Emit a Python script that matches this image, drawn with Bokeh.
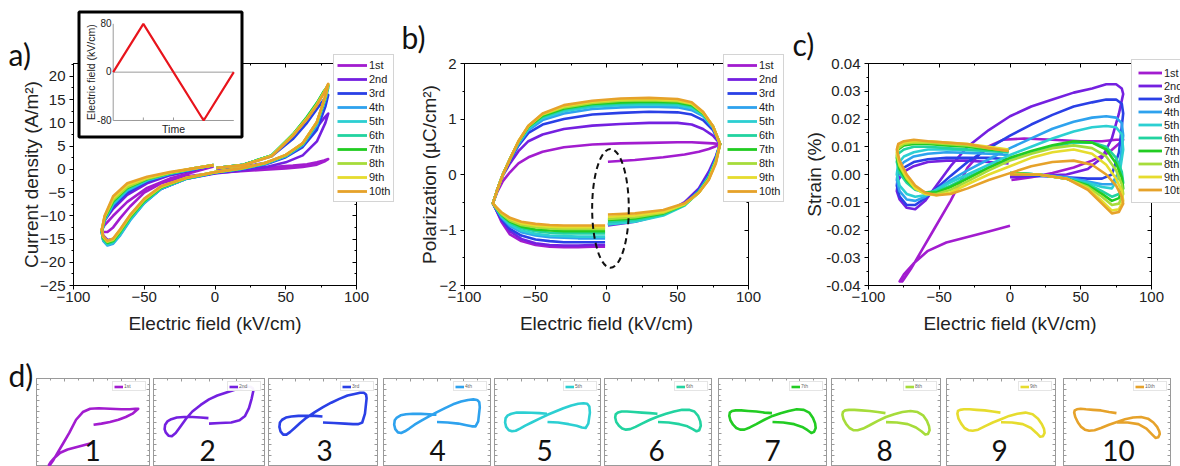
import math
from bokeh.plotting import figure
from bokeh.models import (Legend, LegendItem, LinearAxis, Range1d, Label, BoxAnnotation,
                          CustomJSTickFormatter, FixedTicker, NumeralTickFormatter)
from bokeh.layouts import row, column
from bokeh.embed import file_html
from bokeh.resources import INLINE

FONT = "Liberation Sans"
HAND = "Lato"

CYCLE_LABELS = ["1st", "2nd", "3rd", "4th", "5th", "6th", "7th", "8th", "9th", "10th"]
CYCLE_COLORS = ["#a21ccf", "#7420e0", "#2a40e6", "#2ea2ee", "#2ccfd2",
                "#22d3a0", "#22cc22", "#a6dc3a", "#e6dc2e", "#e6a22a"]
PANEL_NUMBERS = ["1", "2", "3", "4", "5", "6", "7", "8", "9", "10"]
PANEL_LETTERS = ["a)", "b)", "c)", "d)"]

# ---------------- axis ticks ----------------
X_TICKS = [-100, -50, 0, 50, 100]
X_MINOR = [-75, -25, 25, 75]
A_YTICKS = [-25, -20, -15, -10, -5, 0, 5, 10, 15, 20]
A_YMINOR = [-22.5, -17.5, -12.5, -7.5, -2.5, 2.5, 7.5, 12.5, 17.5, 22.5]
B_YTICKS = [-2, -1, 0, 1, 2]
B_YMINOR = [-1.5, -0.5, 0.5, 1.5]
C_YTICKS = [-0.04, -0.03, -0.02, -0.01, 0.0, 0.01, 0.02, 0.03, 0.04]
C_YMINOR = [-0.035, -0.025, -0.015, -0.005, 0.005, 0.015, 0.025, 0.035]
INSET_YTICK_LABELS = ["80", "0", "-80"]

# ---------------- inset: applied field waveform ----------------
INSET_TIME = [0, 1, 3, 4]
INSET_FIELD = [0, 80, -80, 0]

# ---------------- panel a: current density (A/m2) ----------------
FIELD_A = [1, 20, 40, 55, 65, 72, 77, 80, 78, 72, 62, 50, 35, 18, 0, -20, -38, -50, -60, -67,
           -72, -76, -79, -80, -78, -72, -62, -48, -32, -15, -1]
J_1 = [0.2, 0.3, 0.5, 0.8, 1.1, 1.5, 1.9, 2.2, 1.8, 1.0, 0.5, 0.2, -0.1, -0.4, -0.8, -1.5, -3.0,
       -5.0, -8.0, -10.5, -12.5, -13.5, -13.5, -13.0, -12.0, -10.0, -7.0, -4.0, -2.0, -0.6, 0.6]
J_2 = [0.2, 0.6, 1.6, 3.8, 6.5, 9.0, 11.0, 12.0, 10.0, 6.0, 3.0, 1.5, 0.4, -0.3, -0.9, -2.0, -4.2,
       -7.0, -10.5, -13.5, -15.0, -15.2, -14.2, -13.0, -11.0, -8.5, -5.5, -3.0, -1.3, -0.2, 0.8]
J_3 = [0.3, 1.0, 2.8, 6.5, 10.0, 13.0, 15.0, 16.0, 13.5, 8.5, 4.8, 2.6, 1.0, 0.0, -0.8, -2.0, -4.2,
       -7.2, -10.8, -14.0, -15.8, -16.2, -15.2, -13.6, -11.0, -8.0, -5.0, -2.6, -1.1, 0.0, 0.9]
J_4 = [0.3, 1.0, 3.0, 7.2, 11.0, 14.0, 16.5, 17.5, 15.0, 9.5, 5.2, 2.8, 1.1, 0.1, -0.7, -2.0, -4.2,
       -7.3, -11.0, -14.2, -16.0, -16.4, -15.4, -13.6, -11.0, -7.6, -4.6, -2.4, -1.0, 0.1, 0.9]
J_5 = [0.3, 1.0, 3.0, 7.4, 11.2, 14.2, 16.7, 17.8, 15.2, 9.8, 5.4, 2.9, 1.2, 0.1, -0.7, -2.0, -4.1,
       -7.1, -10.8, -14.0, -15.8, -16.2, -15.2, -13.5, -10.8, -7.3, -4.4, -2.3, -0.9, 0.1, 0.9]
J_6 = [0.3, 1.0, 3.0, 7.5, 11.3, 14.3, 16.8, 18.0, 15.4, 10.0, 5.5, 3.0, 1.2, 0.1, -0.7, -1.9, -4.0,
       -6.9, -10.5, -13.7, -15.6, -16.0, -15.0, -13.4, -10.6, -7.1, -4.2, -2.2, -0.9, 0.2, 0.9]
J_7 = [0.3, 1.0, 3.0, 7.5, 11.2, 14.2, 16.8, 18.1, 15.5, 10.1, 5.5, 3.0, 1.3, 0.2, -0.6, -1.9, -3.9,
       -6.8, -10.3, -13.4, -15.4, -15.8, -14.8, -13.2, -10.5, -6.9, -4.0, -2.1, -0.8, 0.2, 0.9]
J_8 = [0.3, 0.9, 2.9, 7.4, 11.0, 14.0, 16.6, 18.2, 15.6, 10.1, 5.6, 3.0, 1.3, 0.2, -0.6, -1.8, -3.8,
       -6.6, -10.1, -13.2, -15.2, -15.6, -14.6, -13.0, -10.3, -6.6, -3.8, -2.0, -0.8, 0.2, 0.9]
J_9 = [0.3, 0.9, 2.9, 7.3, 10.9, 13.9, 16.5, 18.3, 15.7, 10.2, 5.6, 3.1, 1.3, 0.2, -0.6, -1.8, -3.7,
       -6.4, -9.9, -13.0, -15.0, -15.5, -14.5, -13.0, -10.1, -6.2, -3.4, -1.8, -0.7, 0.2, 0.9]
J_10 = [0.3, 0.9, 2.8, 7.2, 10.8, 13.8, 16.4, 18.4, 15.8, 10.2, 5.6, 3.1, 1.3, 0.2, -0.6, -1.8, -3.6,
        -6.3, -9.8, -12.9, -14.9, -15.4, -14.4, -13.0, -10.0, -5.8, -3.0, -1.6, -0.6, 0.2, 0.9]
CURRENT = [J_1, J_2, J_3, J_4, J_5, J_6, J_7, J_8, J_9, J_10]

# ---------------- panel b: polarization (uC/cm2) ----------------
FIELD_B = [1, 20, 40, 55, 65, 72, 77, 80, 75, 68, 60, 50, 30, 10, -10, -30, -45, -55, -62, -68,
           -73, -77, -80, -78, -74, -68, -60, -50, -40, -30, -20, -10, -1]
P_1 = [0.23, 0.26, 0.31, 0.36, 0.41, 0.46, 0.51, 0.55, 0.56, 0.57, 0.58, 0.58, 0.57, 0.56, 0.54,
       0.49, 0.41, 0.31, 0.2, 0.04, -0.12, -0.32, -0.52, -0.62, -0.85, -1.08, -1.2, -1.27, -1.3,
       -1.31, -1.31, -1.3, -1.3]
P_2 = [-0.92, -0.85, -0.72, -0.5, -0.25, 0.05, 0.33, 0.55, 0.7, 0.82, 0.9, 0.93, 0.93, 0.91, 0.88,
       0.82, 0.72, 0.6, 0.42, 0.2, -0.02, -0.28, -0.52, -0.62, -0.82, -1.02, -1.16, -1.24, -1.27,
       -1.28, -1.28, -1.27, -1.27]
P_3 = [-0.9, -0.84, -0.72, -0.52, -0.28, 0.0, 0.3, 0.55, 0.8, 0.98, 1.08, 1.12, 1.13, 1.11, 1.08,
       1.0, 0.9, 0.75, 0.52, 0.25, 0.0, -0.28, -0.52, -0.62, -0.8, -0.98, -1.1, -1.17, -1.2, -1.22,
       -1.22, -1.22, -1.22]
P_4 = [-0.88, -0.83, -0.72, -0.54, -0.3, -0.03, 0.28, 0.55, 0.84, 1.05, 1.16, 1.21, 1.22, 1.21,
       1.18, 1.1, 0.98, 0.8, 0.55, 0.27, 0.0, -0.28, -0.52, -0.6, -0.77, -0.93, -1.04, -1.1, -1.13,
       -1.14, -1.15, -1.15, -1.15]
P_5 = [-0.9, -0.85, -0.74, -0.56, -0.32, -0.05, 0.26, 0.55, 0.85, 1.07, 1.2, 1.25, 1.26, 1.25, 1.22,
       1.14, 1.02, 0.83, 0.57, 0.28, 0.0, -0.28, -0.52, -0.6, -0.75, -0.9, -1.01, -1.07, -1.1, -1.11,
       -1.12, -1.12, -1.12]
P_6 = [-0.85, -0.82, -0.72, -0.55, -0.32, -0.06, 0.25, 0.55, 0.86, 1.09, 1.23, 1.28, 1.29, 1.28,
       1.25, 1.17, 1.04, 0.85, 0.58, 0.28, 0.0, -0.28, -0.52, -0.6, -0.74, -0.87, -0.97, -1.02,
       -1.05, -1.06, -1.06, -1.06, -1.06]
P_7 = [-0.82, -0.79, -0.7, -0.54, -0.32, -0.07, 0.24, 0.55, 0.87, 1.1, 1.25, 1.3, 1.31, 1.3, 1.27,
       1.19, 1.06, 0.86, 0.59, 0.28, 0.0, -0.28, -0.52, -0.59, -0.72, -0.85, -0.94, -0.99, -1.01,
       -1.02, -1.02, -1.02, -1.02]
P_8 = [-0.8, -0.77, -0.69, -0.54, -0.33, -0.08, 0.23, 0.55, 0.87, 1.11, 1.27, 1.32, 1.34, 1.33,
       1.29, 1.21, 1.08, 0.87, 0.6, 0.28, 0.0, -0.28, -0.52, -0.59, -0.71, -0.83, -0.91, -0.95,
       -0.97, -0.98, -0.98, -0.98, -0.98]
P_9 = [-0.76, -0.74, -0.67, -0.53, -0.33, -0.09, 0.22, 0.55, 0.87, 1.12, 1.28, 1.34, 1.36, 1.35,
       1.31, 1.23, 1.09, 0.88, 0.6, 0.28, 0.0, -0.28, -0.52, -0.58, -0.69, -0.8, -0.88, -0.92,
       -0.94, -0.95, -0.95, -0.95, -0.95]
P_10 = [-0.72, -0.7, -0.64, -0.52, -0.33, -0.1, 0.2, 0.55, 0.87, 1.13, 1.3, 1.36, 1.38, 1.37, 1.33,
        1.25, 1.1, 0.88, 0.6, 0.28, 0.0, -0.28, -0.52, -0.58, -0.68, -0.78, -0.85, -0.89, -0.91,
        -0.92, -0.92, -0.92, -0.92]
POLARIZATION = [P_1, P_2, P_3, P_4, P_5, P_6, P_7, P_8, P_9, P_10]
# dashed ellipse marking the start/end gap at E = 0
ELLIPSE_X = [2.8]
ELLIPSE_Y = [-0.61]
ELLIPSE_W = [25.8]
ELLIPSE_H = [2.14]

# ---------------- panel c / d: strain (%) ----------------
FIELD_C1 = [0, -15, -30, -45, -58, -68, -75, -78, -76, -70, -62, -54, -42, -30, -18, -5, 10, 30, 50,
            65, 75, 80, 78, 70, 58, 45, 30, 15, 1]
S_1 = [-0.0185, -0.0205, -0.0225, -0.0245, -0.0275, -0.032, -0.036, -0.0385, -0.0385, -0.034,
       -0.027, -0.020, -0.0095, 0.0025, 0.0095, 0.0125, 0.013, 0.0125, 0.012, 0.012, 0.0125, 0.0125,
       0.0115, 0.008, 0.005, 0.0025, 0.0005, -0.001, -0.002]
FIELD_C = [0, 20, 40, 55, 65, 72, 77, 80, 79, 75, 68, 58, 45, 30, 15, 0, -15, -30, -42, -52, -60,
           -67, -73, -78, -80, -79, -75, -68, -58, -45, -30, -15, -1]
S_2 = [-0.001, -0.0005, 0.0, 0.002, 0.006, 0.013, 0.022, 0.029, 0.031, 0.0325, 0.0325, 0.031,
       0.0295, 0.027, 0.0245, 0.021, 0.016, 0.010, 0.003, -0.004, -0.0095, -0.0125, -0.012, -0.009,
       -0.006, -0.002, 0.001, 0.003, 0.0045, 0.005, 0.005, 0.0045, 0.004]
S_3 = [0.0, -0.0005, -0.001, -0.0015, -0.0015, 0.0, 0.008, 0.022, 0.0255, 0.027, 0.027, 0.026,
       0.0245, 0.0215, 0.018, 0.014, 0.0095, 0.0045, -0.0005, -0.005, -0.0085, -0.011, -0.011,
       -0.008, -0.004, 0.0, 0.0025, 0.0045, 0.0055, 0.006, 0.006, 0.006, 0.0055]
S_4 = [0.0005, 0.0, -0.001, -0.0025, -0.0035, -0.0035, 0.001, 0.014, 0.0185, 0.0205, 0.021, 0.0205,
       0.019, 0.0165, 0.013, 0.0095, 0.0055, 0.0015, -0.002, -0.0055, -0.008, -0.0095, -0.009,
       -0.006, -0.002, 0.002, 0.0045, 0.0065, 0.0075, 0.008, 0.0078, 0.0075, 0.007]
S_5 = [0.0005, 0.0, -0.0015, -0.003, -0.0045, -0.005, -0.001, 0.009, 0.0145, 0.017, 0.0175, 0.017,
       0.0155, 0.013, 0.010, 0.007, 0.0035, 0.0, -0.0028, -0.0055, -0.0075, -0.008, -0.007, -0.004,
       0.0, 0.004, 0.0065, 0.008, 0.009, 0.009, 0.0088, 0.0085, 0.008]
S_6 = [0.0005, 0.0, -0.0015, -0.0035, -0.006, -0.008, -0.007, -0.003, 0.001, 0.006, 0.010, 0.0115,
       0.0115, 0.010, 0.008, 0.0055, 0.0025, -0.001, -0.004, -0.006, -0.0065, -0.0055, -0.003,
       0.0005, 0.0045, 0.0075, 0.009, 0.010, 0.010, 0.0095, 0.009, 0.0085, 0.008]
S_7 = [0.0005, 0.0, -0.0015, -0.004, -0.007, -0.0095, -0.0085, -0.005, -0.001, 0.004, 0.009, 0.0115,
       0.012, 0.0105, 0.0085, 0.006, 0.0025, -0.0015, -0.0045, -0.0065, -0.0065, -0.005, -0.002,
       0.002, 0.006, 0.009, 0.0105, 0.011, 0.011, 0.0105, 0.010, 0.009, 0.0085]
S_8 = [0.0003, 0.0, -0.0015, -0.0045, -0.008, -0.011, -0.0105, -0.007, -0.0035, 0.0015, 0.0065,
       0.0095, 0.0105, 0.0095, 0.0075, 0.005, 0.0015, -0.0025, -0.0055, -0.007, -0.007, -0.005,
       -0.0015, 0.003, 0.007, 0.0095, 0.011, 0.0115, 0.0115, 0.011, 0.0105, 0.0095, 0.0085]
S_9 = [0.0002, 0.0, -0.0015, -0.005, -0.0095, -0.013, -0.0125, -0.0095, -0.006, -0.0015, 0.0035,
       0.0075, 0.009, 0.008, 0.006, 0.003, 0.0, -0.0035, -0.0065, -0.0075, -0.007, -0.005, -0.001,
       0.0035, 0.008, 0.0105, 0.0115, 0.012, 0.012, 0.0115, 0.011, 0.010, 0.009]
S_10 = [0.0, 0.0, -0.0015, -0.0055, -0.0105, -0.014, -0.0135, -0.0105, -0.008, -0.004, 0.0, 0.0035,
        0.005, 0.0045, 0.003, 0.0005, -0.002, -0.005, -0.007, -0.0075, -0.0065, -0.004, 0.0, 0.005,
        0.009, 0.011, 0.012, 0.0125, 0.012, 0.0115, 0.011, 0.0095, 0.0085]
STRAIN = [S_1, S_2, S_3, S_4, S_5, S_6, S_7, S_8, S_9, S_10]
STRAIN_FIELD = [FIELD_C1] + [FIELD_C] * 9


def blank_fmt():
    return CustomJSTickFormatter(code="return ''")


def dress(ax, outward, color="black", major=4, minor=2):
    ax.axis_line_color = color
    ax.major_tick_line_color = color
    ax.minor_tick_line_color = color
    if outward:
        ax.major_tick_out, ax.major_tick_in = major, 0
        ax.minor_tick_out, ax.minor_tick_in = minor, 0
    else:
        ax.major_tick_out, ax.major_tick_in = 0, major
        ax.minor_tick_out, ax.minor_tick_in = 0, minor
    ax.major_label_text_font = FONT
    ax.major_label_text_font_size = "15px"
    ax.major_label_text_color = "#222222"
    ax.axis_label_text_font = FONT
    ax.axis_label_text_font_size = "19px"
    ax.axis_label_text_font_style = "normal"
    ax.axis_label_text_color = "#222222"


def main_fig(width, left, right, top, yrange, yticks, yminor, ylabel, ystand, yfmt=None):
    p = figure(width=width, height=350, x_range=Range1d(-100, 100), y_range=Range1d(*yrange),
               output_backend="svg", toolbar_location=None, title=None,
               min_border_left=left, min_border_right=right, min_border_top=top,
               min_border_bottom=65)
    p.grid.visible = False
    p.outline_line_color = "black"
    p.outline_line_width = 1
    p.background_fill_color = "white"
    p.border_fill_color = "white"
    xt = FixedTicker(ticks=X_TICKS, minor_ticks=X_MINOR)
    yt = FixedTicker(ticks=yticks, minor_ticks=yminor)
    xa, ya = p.xaxis[0], p.yaxis[0]
    xa.ticker = xt
    ya.ticker = yt
    if yfmt is not None:
        ya.formatter = yfmt
    dress(xa, True)
    dress(ya, True)
    xa.major_label_standoff = 2
    ya.major_label_standoff = 4
    xa.axis_label = "Electric field (kV/cm)"
    ya.axis_label = ylabel
    xa.axis_label_standoff = 8
    ya.axis_label_standoff = ystand
    top_ax = LinearAxis(ticker=xt, formatter=blank_fmt(), major_label_standoff=0)
    right_ax = LinearAxis(ticker=yt, formatter=blank_fmt(), major_label_standoff=0)
    dress(top_ax, False)
    dress(right_ax, False)
    top_ax.major_label_text_font_size = "1px"
    right_ax.major_label_text_font_size = "1px"
    p.add_layout(top_ax, "above")
    p.add_layout(right_ax, "right")
    return p


# ---------------- panel a ----------------
fa = main_fig(390, 73, 34, 55, (-25, 22.77), A_YTICKS, A_YMINOR, "Current density (A/m²)", -5)
for y, c in zip(CURRENT, CYCLE_COLORS):
    fa.line(FIELD_A, y, line_color=c, line_width=2.6, line_join="round")

# ---------------- panel b ----------------
fb = main_fig(400, 74, 42, 55, (-2, 2), B_YTICKS, B_YMINOR, "Polarization (µC/cm²)", -4)
for y, c in zip(POLARIZATION, CYCLE_COLORS):
    fb.line(FIELD_B, y, line_color=c, line_width=2.6, line_join="round")
fb.ellipse(x=ELLIPSE_X, y=ELLIPSE_Y, width=ELLIPSE_W, height=ELLIPSE_H, fill_color=None,
           line_color="#111111", line_width=2, line_dash="6 4")

# ---------------- panel c ----------------
fc = main_fig(390, 78, 29, 63, (-0.04, 0.04), C_YTICKS, C_YMINOR, "Strain (%)", -2,
              yfmt=NumeralTickFormatter(format="0.00"))
for x, y, c in zip(STRAIN_FIELD, STRAIN, CYCLE_COLORS):
    fc.line(x, y, line_color=c, line_width=2.6, line_join="round")

# ---------------- panel d: individual strain loops ----------------
MINI_FIG_W = [153, 115, 115, 111, 110, 114, 113, 115, 117, 117]
MINI_LEFT = [36, 0, 0, 0, 0, 0, 0, 0, 0, 0]
MINI_RIGHT = [4, 4, 6, 4, 4, 7, 5, 6, 8, 10]
minis = []
for i in range(10):
    m = figure(width=MINI_FIG_W[i], height=116, x_range=Range1d(-100, 100),
               y_range=Range1d(-0.04, 0.04), output_backend="svg", toolbar_location=None,
               title=None, x_axis_location="above", min_border_left=MINI_LEFT[i],
               min_border_right=MINI_RIGHT[i], min_border_top=28, min_border_bottom=0)
    m.grid.visible = False
    m.outline_line_color = "#9a9a9a"
    xt = FixedTicker(ticks=X_TICKS, minor_ticks=X_MINOR)
    yt = FixedTicker(ticks=C_YTICKS, minor_ticks=C_YMINOR)
    m.xaxis[0].ticker = xt
    m.yaxis[0].ticker = yt
    rax = LinearAxis(ticker=yt)
    m.add_layout(rax, "right")
    for ax in (m.xaxis[0], m.yaxis[0], rax):
        ax.formatter = blank_fmt()
        ax.major_label_standoff = 0
        dress(ax, False, color="#9a9a9a", major=3, minor=2)
        ax.major_label_text_font_size = "1px"
    r = m.line(STRAIN_FIELD[i], STRAIN[i], line_color=CYCLE_COLORS[i], line_width=2.6,
               line_join="round")
    lg = Legend(items=[LegendItem(label=CYCLE_LABELS[i], renderers=[r])], location="top_right",
                padding=1, spacing=0, margin=3, glyph_width=9, glyph_height=5, label_height=5,
                label_standoff=1, label_text_font=FONT, label_text_font_size="5px",
                label_text_color="#666666", border_line_color="#cccccc")
    m.add_layout(lg)
    minis.append(m)

# ---------------- transparent overlay: inset, legends, lettering (pixel coordinates) -------------
ov = figure(width=1180, height=466, x_range=Range1d(0, 1180), y_range=Range1d(466, 0),
            x_axis_type=None, y_axis_type=None, title=None, output_backend="svg",
            toolbar_location=None, min_border_left=0, min_border_right=0, min_border_top=0,
            min_border_bottom=0)
ov.grid.visible = False
ov.outline_line_color = None
ov.background_fill_color = None
ov.border_fill_color = None
ov.margin = (-466, 0, 0, 0)

# legends for panels a, b, c
nan = float("nan")
keys = [ov.line(x=[nan], y=[nan], line_color=c, line_width=2.8) for c in CYCLE_COLORS]
for loc, gw, rh, pad in [((333, 264), 30, 14, 3), ((723, 264), 30, 14, 3),
                         ((1131, 263), 24, 13, 6)]:
    items = [LegendItem(label=lab, renderers=[r]) for lab, r in zip(CYCLE_LABELS, keys)]
    ov.add_layout(Legend(items=items, location=loc, padding=pad, spacing=0, margin=0,
                         glyph_width=gw, glyph_height=rh, label_height=rh, label_standoff=2,
                         label_text_font=FONT, label_text_font_size="11px",
                         label_text_color="#222222", border_line_color="#aaaaaa",
                         border_line_width=1, background_fill_alpha=1.0))

# inset (field waveform vs time) with its own scales
ov.extra_x_ranges = {"t": Range1d(-3.738, 35.40)}
ov.extra_y_ranges = {"e": Range1d(-652.5, 118.55)}
ov.add_layout(BoxAnnotation(left=78.5, right=241.5, top=11.5, bottom=136.5, fill_color="white",
                            fill_alpha=1.0, line_color="black", line_alpha=1.0, line_width=3,
                            level="underlay"))
ov.segment(x0=[0, 0, 0, 1, 2, 3], y0=[-80, -80, 0, -80, -80, -80],
           x1=[0, 4, 4, 1, 2, 3], y1=[80, -80, 0, -75, -75, -75],
           x_range_name="t", y_range_name="e", line_color="#9a9a9a", line_width=1)
ov.line(INSET_TIME, INSET_FIELD, x_range_name="t", y_range_name="e", line_color="#e8141c",
        line_width=2.2)
for y, t in zip([22, 70.5, 119], INSET_YTICK_LABELS):
    ov.add_layout(Label(x=111, y=y, text=t, text_font=FONT, text_font_size="10px",
                        text_color="#222222", text_align="right", text_baseline="alphabetic"))
ov.add_layout(Label(x=173, y=128, text="Time", text_font=FONT, text_font_size="10.5px",
                    text_color="#222222", text_align="center", text_baseline="alphabetic"))
ov.add_layout(Label(x=90, y=71.7, text="Electric field (kV/cm)", angle=math.pi / 2,
                    text_font=FONT, text_font_size="10.5px", text_color="#222222",
                    text_align="center", text_baseline="alphabetic"))

for (x, y), t in zip([(8, 53), (401, 36), (792, 43), (8, 374)], PANEL_LETTERS):
    ov.add_layout(Label(x=x, y=y, text=t, text_font=HAND, text_font_size="30px",
                        text_color="#111111", text_baseline="alphabetic"))
for x, t in zip([92, 207, 324, 437, 544, 656, 772, 884, 999, 1118], PANEL_NUMBERS):
    ov.add_layout(Label(x=x, y=450, text=t, text_font=HAND, text_font_size="28px",
                        text_color="#111111", text_align="center", text_baseline="alphabetic"))

top = row(fa, fb, fc)
bottom = row(*minis)
layout = column(top, bottom, ov)

open("out.html", "w").write(file_html(layout, INLINE))
